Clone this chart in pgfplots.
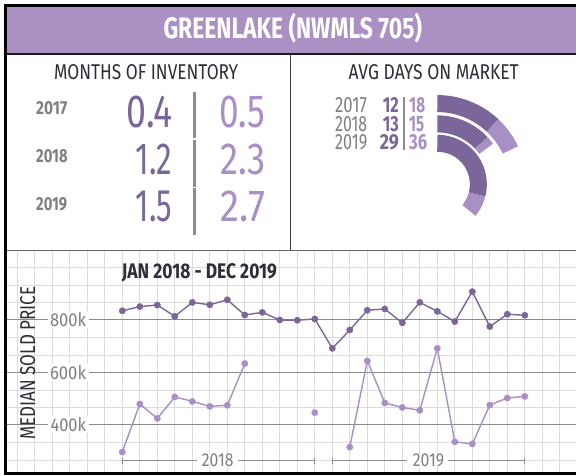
\documentclass[border=0pt]{standalone}
\usepackage{pgfplots}
\pgfplotsset{compat=1.18}
\usepackage{pgfplotstable}
\usepackage{graphicx}
\usepackage{fontspec}
\setmainfont{Fira Sans}
\definecolor{dpur}{HTML}{7B6699}
\definecolor{lpur}{HTML}{A88FC5}
\definecolor{banner}{HTML}{AB90C4}
\definecolor{txtdark}{HTML}{2F2E38}
\definecolor{txtgray}{HTML}{7F7F84}
\definecolor{gridl}{HTML}{DCDCDC}
\definecolor{gridd}{HTML}{8C8C8C}
\newcommand{\tx}[3]{\raisebox{0pt}[#2pt][0pt]{\resizebox{#1pt}{#2pt}{#3}}}

\pgfplotstableread{
i dark light
0 835 297
1 851 480
2 857 425
3 814 507
4 867 490
5 858 471
6 877 475
7 819 634
8 829 nan
9 800 nan
10 799 nan
11 804 447
12 692 nan
13 762 316
14 837 644
15 842 484
16 789 467
17 867 456
18 833 692
19 794 336
20 908 328
21 775 476
22 822 503
23 818 509
}\pricedata

\begin{document}
\begin{tikzpicture}
\useasboundingbox (0pt,0pt) rectangle (576pt,476pt);
\fill[white] (0pt,0pt) rectangle (576pt,476pt);

% ---------- main chart ----------
\begin{axis}[
  at={(6.7pt,225pt)}, anchor=north west,
  scale only axis, width=569.3pt, height=221pt,
  xmin=-6.606, xmax=25.926, ymin=220.95, ymax=1062.86,
  axis line style={draw=none},
  xtick=\empty, ytick=\empty,
  unbounded coords=jump,
  clip=false,
]
\pgfplotsinvokeforeach{-6,...,25}{\draw[gridl, line width=0.9pt] (axis cs:#1,220.95) -- (axis cs:#1,1062.86);}
\pgfplotsinvokeforeach{266.667,333.333,466.667,533.333,666.667,733.333,866.667,933.333,1000}{\draw[gridl, line width=0.9pt] (axis cs:-6.606,#1) -- (axis cs:25.926,#1);}
\pgfplotsinvokeforeach{400,600,800}{\draw[gridd, line width=1pt] (axis cs:-6.606,#1) -- (axis cs:25.926,#1);}
\node[anchor=east, fill=white, inner xsep=2.5pt, inner ysep=1.5pt, text=txtgray] at (axis cs:-1.918,800) {\tx{36}{14}{800k}};
\node[anchor=east, fill=white, inner xsep=2.5pt, inner ysep=1.5pt, text=txtgray] at (axis cs:-1.918,600) {\tx{36}{14}{600k}};
\node[anchor=east, fill=white, inner xsep=2.5pt, inner ysep=1.5pt, text=txtgray] at (axis cs:-1.918,400) {\tx{35.5}{14}{400k}};
\addplot[dpur, line width=1.4pt, mark=*, mark size=3.2pt, mark options={solid, fill=dpur, draw=dpur, line width=0.3pt}] table[x=i,y=dark]{\pricedata};
\addplot[lpur, line width=1.4pt, mark=*, mark size=3.2pt, mark options={solid, fill=lpur, draw=lpur, line width=0.3pt}] table[x=i,y=light]{\pricedata};
\end{axis}

% ---------- days on market arcs ----------
\begin{axis}[
  at={(437.3pt,291.7pt)}, anchor=origin,
  x=1pt, y=1pt, xmin=-2, xmax=95, ymin=-95, ymax=95,
  hide axis, clip=false,
]
\addplot[dpur, line width=17pt, domain={90-3.6*12}:90, samples=60, no marks] ({80.7*cos(x)},{80.7*sin(x)});
\addplot[lpur, line width=17pt, domain={90-3.6*18}:{90-3.6*12}, samples=30, no marks] ({80.7*cos(x)},{80.7*sin(x)});
\addplot[dpur, line width=17pt, domain={90-3.6*13}:90, samples=60, no marks] ({60.4*cos(x)},{60.4*sin(x)});
\addplot[lpur, line width=17pt, domain={90-3.6*15}:{90-3.6*13}, samples=30, no marks] ({60.4*cos(x)},{60.4*sin(x)});
\addplot[dpur, line width=17pt, domain={90-3.6*29}:90, samples=80, no marks] ({41*cos(x)},{41*sin(x)});
\addplot[lpur, line width=17pt, domain={90-3.6*36}:{90-3.6*29}, samples=30, no marks] ({41*cos(x)},{41*sin(x)});
\end{axis}

\begin{scope}[x=1pt, y=1pt, shift={(0pt,476pt)}, yscale=-1]
% ---------- frame ----------
\fill[banner] (6.7,6.7) rectangle (576,52.7);
\fill[black] (4,4) rectangle (576,6.7);
\fill[black] (4,4) rectangle (6.7,475);
\fill[black!90] (6.7,52.7) rectangle (576,55);
\fill[black] (4,471.7) rectangle (576,475);
\draw[black!75, line width=1.2pt] (290.5,55) -- (290.5,250);
\draw[black!60, line width=1.6pt] (6.7,250.6) -- (576,250.6);

% ---------- title ----------
\node[anchor=base west, inner sep=0, text=white] at (163.3,38.3) {\tx{258.4}{21}{\bfseries GREENLAKE \smash{(}NWMLS 705\smash{)}}};

% ---------- months of inventory ----------
\node[anchor=base west, inner sep=0, text=txtdark] at (54,80) {\tx{184}{15}{MONTHS OF INVENTORY}};
\node[anchor=base west, inner sep=0, text=txtgray] at (36,115) {\tx{31}{13}{\bfseries 2017}};
\node[anchor=base west, inner sep=0, text=txtgray] at (36,163) {\tx{31.5}{13}{\bfseries 2018}};
\node[anchor=base west, inner sep=0, text=txtgray] at (36,211) {\tx{31}{13}{\bfseries 2019}};

\node[anchor=base east, inner sep=0, text=dpur] at (172.7,127.7) {\tx{46}{31.5}{0.4}};
\node[anchor=base east, inner sep=0, text=dpur] at (172.7,174.3) {\tx{36.7}{30.5}{1.2}};
\node[anchor=base east, inner sep=0, text=dpur] at (172.7,221.7) {\tx{36.7}{30.5}{1.5}};
\node[anchor=base west, inner sep=0, text=lpur] at (219.3,127.7) {\tx{45.7}{31.5}{0.5}};
\node[anchor=base west, inner sep=0, text=lpur] at (220,174.3) {\tx{45}{30.5}{2.3}};
\node[anchor=base west, inner sep=0, text=lpur] at (220,221.7) {\tx{45}{30.5}{2.7}};

\draw[gridd, line width=3pt] (194.3,91.7) -- (194.3,138.3);
\draw[gridd, line width=3pt] (194.3,140) -- (194.3,186.7);
\draw[gridd, line width=3pt] (194.3,188.3) -- (194.3,235);

% ---------- avg days on market ----------
\node[anchor=base west, inner sep=0, text=txtdark] at (348.5,80) {\tx{170}{15}{AVG DAYS ON MARKET}};
\node[anchor=base west, inner sep=0, text=txtgray] at (335,112.3) {\tx{31.7}{15}{2017}};
\node[anchor=base west, inner sep=0, text=txtgray] at (335,131.5) {\tx{32}{15}{2018}};
\node[anchor=base west, inner sep=0, text=txtgray] at (335,149.3) {\tx{32}{15}{2019}};
\node[anchor=base east, inner sep=0, text=dpur] at (399,112.3) {\tx{16}{15}{\bfseries 12}};
\node[anchor=base east, inner sep=0, text=dpur] at (399,131.5) {\tx{16}{15}{\bfseries 13}};
\node[anchor=base east, inner sep=0, text=dpur] at (399,149.3) {\tx{19}{15}{\bfseries 29}};
\node[anchor=base west, inner sep=0, text=lpur] at (409,112.3) {\tx{16}{15}{\bfseries 18}};
\node[anchor=base west, inner sep=0, text=lpur] at (409,131.5) {\tx{15}{15}{\bfseries 15}};
\node[anchor=base west, inner sep=0, text=lpur] at (409,149.3) {\tx{18}{15}{\bfseries 36}};
\draw[gridd, line width=1.3pt] (404,97) -- (404,150);

% ---------- chart texts ----------
\node[anchor=base west, inner sep=0, text=txtdark] at (121.7,278.3) {\tx{155}{15}{\bfseries JAN 2018 - DEC 2019}};
\node[anchor=base west, inner sep=0, text=txtdark, rotate=90] at (35,440) {\tx{153.3}{15}{MEDIAN SOLD PRICE}};

\fill[white] (196.7,454) rectangle (238.3,467.5);
\fill[white] (407.3,454) rectangle (448.3,467.5);
\draw[gridd, line width=1pt] (122.3,460.7) -- (196.7,460.7) (238.3,460.7) -- (314.3,460.7);
\draw[gridd, line width=1pt] (122.3,457.7) -- (122.3,463.7) (314.3,457.7) -- (314.3,463.7);
\node[anchor=base west, inner sep=0, text=txtgray] at (201.7,466.7) {\tx{31.6}{12.7}{2018}};
\draw[gridd, line width=1pt] (332,460.7) -- (407.3,460.7) (448.3,460.7) -- (524.7,460.7);
\draw[gridd, line width=1pt] (332,457.7) -- (332,463.7) (524.7,457.7) -- (524.7,463.7);
\node[anchor=base west, inner sep=0, text=txtgray] at (412.7,466.7) {\tx{31.3}{12.7}{2019}};
\end{scope}
\end{tikzpicture}
\end{document}
